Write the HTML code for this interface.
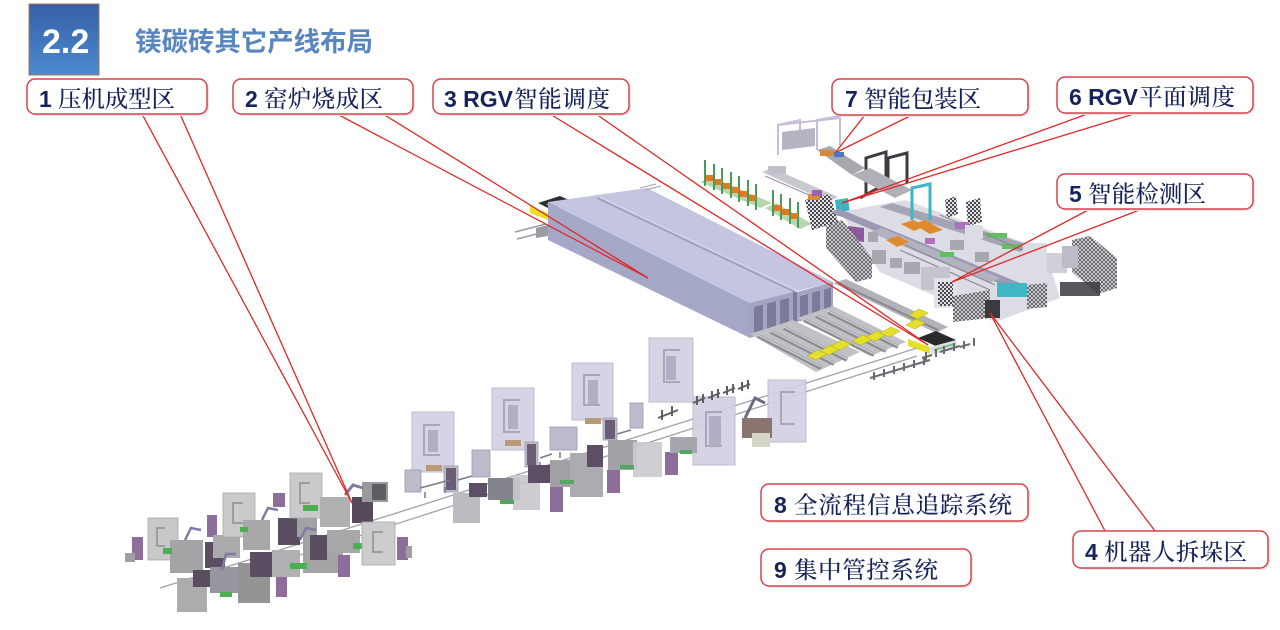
<!DOCTYPE html>
<html><head><meta charset="utf-8">
<style>
html,body{margin:0;padding:0;background:#fff;}
svg{display:block;}
.num{font-family:"Liberation Sans",sans-serif;font-weight:bold;font-size:23px;fill:#16245a;}
.cn{font-family:"Noto Serif CJK SC","Noto Serif CJK JP","Liberation Serif",serif;font-size:23.5px;fill:#16245a;font-weight:500;}
</style></head><body>
<svg width="1280" height="630" viewBox="0 0 1280 630" xmlns="http://www.w3.org/2000/svg">
<defs>
<linearGradient id="tb" x1="0" y1="0" x2="0" y2="1">
<stop offset="0" stop-color="#3560a6"/><stop offset="1" stop-color="#4c8ad0"/>
</linearGradient>
<pattern id="mesh" width="4" height="4" patternUnits="userSpaceOnUse">
<rect width="4" height="4" fill="#e0e0e4"/><rect width="2" height="2" fill="#4a4a50"/><rect x="2" y="2" width="2" height="2" fill="#4a4a50"/>
</pattern>
<pattern id="mesh2" width="4" height="4" patternUnits="userSpaceOnUse">
<rect width="4" height="4" fill="#e6e6ea"/><path d="M0,4 L4,0 M0,0 L4,4" stroke="#55555c" stroke-width="0.9"/>
</pattern>
</defs>

<!-- Title -->
<rect x="29" y="4" width="70" height="71" fill="url(#tb)" stroke="#9c7a50" stroke-width="1"/>
<text x="42" y="53" style="font-family:'Liberation Sans',sans-serif;font-weight:bold;font-size:34px;fill:#fff">2.2</text>
<text x="135" y="51" textLength="238" style="font-family:'Liberation Sans','Noto Sans CJK SC',sans-serif;font-weight:bold;font-size:26.5px;fill:#5a86c0">镁碳砖其它产线布局</text>

<!-- ===== Kiln ===== -->
<g>
<line x1="515" y1="232" x2="546" y2="224" stroke="#9a9aa0" stroke-width="1.5"/>
<line x1="517" y1="239" x2="548" y2="231" stroke="#9a9aa0" stroke-width="1.5"/>
<polygon points="536,228 548,225 548,236 536,238" fill="#9c9ca4"/>
<polygon points="538,203 560,196 574,202 552,210" fill="#2e2e30"/>
<polygon points="530,206 548,213 548,220 530,213" fill="#e6e026"/>
<polygon points="546,204 556,201 560,204 550,207" fill="#5cbf70"/>
<polygon points="548,202 750,303 750,338 548,240" fill="#a5a7c7"/>
<polygon points="548,202 647,188 833,282 750,303" fill="#c3c5e1"/>
<line x1="597" y1="198" x2="795" y2="292" stroke="#9a9cbc" stroke-width="1.6"/>
<line x1="600" y1="197" x2="798" y2="291" stroke="#d6d8ee" stroke-width="1"/>
<line x1="640" y1="188" x2="656" y2="184" stroke="#a0a0a8" stroke-width="1"/>
<line x1="645" y1="190" x2="661" y2="186" stroke="#a0a0a8" stroke-width="1"/>
<polygon points="750,303 793,292 793,323 750,338" fill="#a3a3c2"/>
<polygon points="793,292 797,292 797,322 793,323" fill="#7c7c98"/>
<polygon points="797,292 833,282 833,310 797,322" fill="#a3a3c2"/>
<polygon points="754,307 763,304.7 763,333.5 754,336.6" fill="#7a7a9a"/>
<polygon points="767,303.6 776,301.3 776,328.9 767,332.1" fill="#7a7a9a"/>
<polygon points="780,300.3 789,298 789,324.4 780,327.5" fill="#7a7a9a"/>
<polygon points="800,296.2 808,294 808,318.3 800,321" fill="#7a7a9a"/>
<polygon points="812,292.8 820,290.6 820,314.3 812,317" fill="#7a7a9a"/>
<polygon points="824,289.5 831,287.6 831,310.7 824,313" fill="#7a7a9a"/>
</g>

<!-- tracks -->
<g stroke-linecap="butt">
<polygon points="750,334 793,320 860,352 816,372" fill="#c0c0c6"/>
<polygon points="797,318 833,306 906,342 870,356" fill="#c0c0c6"/>
<line x1="758" y1="336" x2="821" y2="368" stroke="#8c8c94" stroke-width="4"/>
<line x1="771" y1="332" x2="834" y2="364" stroke="#8c8c94" stroke-width="4"/>
<line x1="784" y1="328" x2="847" y2="360" stroke="#8c8c94" stroke-width="4"/>
<line x1="804" y1="320" x2="874" y2="355" stroke="#8c8c94" stroke-width="4"/>
<line x1="816" y1="316" x2="886" y2="351" stroke="#8c8c94" stroke-width="4"/>
<line x1="828" y1="312" x2="898" y2="347" stroke="#8c8c94" stroke-width="4"/>
<line x1="758" y1="335" x2="821" y2="367" stroke="#d4d4da" stroke-width="1.2"/>
<line x1="771" y1="331" x2="834" y2="363" stroke="#d4d4da" stroke-width="1.2"/>
<line x1="784" y1="327" x2="847" y2="359" stroke="#d4d4da" stroke-width="1.2"/>
<line x1="804" y1="319" x2="874" y2="354" stroke="#d4d4da" stroke-width="1.2"/>
<line x1="816" y1="315" x2="886" y2="350" stroke="#d4d4da" stroke-width="1.2"/>
<line x1="828" y1="311" x2="898" y2="346" stroke="#d4d4da" stroke-width="1.2"/>
<polygon points="833,283 846,279 948,327 936,333" fill="#b2b2ba"/>
<line x1="838" y1="283" x2="938" y2="330" stroke="#88888f" stroke-width="2"/>
</g>
<g fill="#e4e02a" stroke="#b9b420" stroke-width="0.6">
<polygon points="807,356 818,350 827,354 816,360"/>
<polygon points="820,351 831,345 840,349 829,355"/>
<polygon points="831,346 842,340 851,344 840,350"/>
<polygon points="852,341 863,335 872,339 861,345"/>
<polygon points="866,337 877,331 886,335 875,341"/>
<polygon points="880,333 891,327 900,331 889,337"/>
<polygon points="909,315 919,309 928,313 918,319"/>
<polygon points="906,325 916,319 925,323 915,329"/>
</g>
<polygon points="918,338 936,331 956,340 938,347" fill="#2a2a2c"/>
<polygon points="908,339 930,347 930,354 908,346" fill="#e6e026"/>
<polygon points="930,347 956,340 958,347 932,355" fill="#dcdce6"/>
<line x1="934" y1="350" x2="954" y2="344" stroke="#5cbf70" stroke-width="1.5"/>

<g stroke="#6a6a70" stroke-width="2" fill="none">
<path d="M870,378 l10,-3 M874,372 v8 M884,369 v8 M880,375 l10,-3"/>
<path d="M890,372 l10,-3 M894,366 v8 M904,363 v8 M900,369 l10,-3"/>
<path d="M910,366 l10,-3 M914,360 v8 M924,357 v8 M920,363 l10,-3"/>
<path d="M922,358 l10,-3 M926,352 v8 M936,349 v8"/>
<path d="M940,352 l10,-3 M944,346 v8 M954,343 v8 M950,349 l10,-3"/>
<path d="M960,347 l10,-3 M964,341 v8 M974,338 v8"/>
</g>

<line x1="160" y1="588" x2="917" y2="348" stroke="#a2a2a6" stroke-width="1.3"/>
<line x1="300" y1="555" x2="917" y2="356" stroke="#a2a2a6" stroke-width="1.3"/>

<!-- ===== Middle group ===== -->
<g>
<g fill="#d2d0e2" stroke="#b8b6ca" stroke-width="1" opacity="0.92">
<rect x="412" y="412" width="42" height="60"/>
<rect x="492" y="388" width="42" height="62"/>
<rect x="572" y="363" width="41" height="57"/>
<rect x="649" y="338" width="44" height="64"/>
<rect x="768" y="380" width="38" height="62"/>
<rect x="693" y="397" width="42" height="68"/>
</g>
<g fill="none" stroke="#a8a6bc" stroke-width="2">
<path d="M440,425 h-16 v30 h16"/>
<path d="M520,400 h-16 v32 h16"/>
<path d="M600,375 h-16 v30 h16"/>
<path d="M680,350 h-16 v32 h16"/>
<path d="M795,392 h-14 v32 h14"/>
<path d="M722,412 h-16 v34 h16"/>
</g>
<g fill="#b0aec4">
<rect x="428" y="430" width="10" height="22"/>
<rect x="508" y="405" width="10" height="24"/>
<rect x="588" y="380" width="10" height="24"/>
<rect x="666" y="356" width="10" height="24"/>
<rect x="709" y="416" width="12" height="30"/>
</g>
<g fill="#bdbacc" stroke="#9c9ab0" stroke-width="0.8">
<rect x="405" y="470" width="16" height="22"/>
<rect x="444" y="466" width="14" height="26"/>
<rect x="472" y="450" width="18" height="27"/>
<rect x="525" y="442" width="13" height="25"/>
<rect x="550" y="427" width="27" height="23"/>
<rect x="603" y="418" width="14" height="22"/>
<rect x="630" y="403" width="13" height="25"/>
</g>
<g fill="#6c5c74">
<rect x="446" y="468" width="10" height="22"/>
<rect x="527" y="444" width="9" height="21"/>
<rect x="605" y="420" width="10" height="19"/>
</g>
<g fill="#b89a78">
<rect x="426" y="465" width="16" height="6"/>
<rect x="505" y="440" width="16" height="6"/>
<rect x="585" y="418" width="16" height="6"/>
</g>
<g stroke="#7a7a86" stroke-width="1.5" fill="none">
<path d="M420,488 l30,-8 M458,480 l14,-4 M540,458 l12,-4 M617,434 l14,-4"/>
<path d="M425,492 v6 M445,487 v6 M540,462 v6 M560,452 v6"/>
</g>
<rect x="453" y="493" width="27" height="30" fill="#bcbcc0"/>
<rect x="469" y="483" width="18" height="14" fill="#5c4e64"/>
<rect x="488" y="478" width="32" height="22" fill="#84848c"/>
<rect x="513" y="475" width="27" height="35" fill="#c8c8cc" opacity="0.9"/>
<rect x="528" y="465" width="22" height="18" fill="#5c4e64"/>
<rect x="550" y="487" width="13" height="25" fill="#8d6e9a"/>
<rect x="550" y="460" width="23" height="27" fill="#a0a0a6"/>
<rect x="570" y="453" width="33" height="44" fill="#acacb0"/>
<rect x="587" y="445" width="16" height="22" fill="#5c4e64"/>
<rect x="607" y="470" width="13" height="23" fill="#8d6e9a"/>
<rect x="608" y="440" width="29" height="30" fill="#a2a2a8"/>
<rect x="633" y="442" width="29" height="35" fill="#cacace" opacity="0.9"/>
<rect x="665" y="452" width="13" height="23" fill="#8d6e9a"/>
<rect x="670" y="437" width="27" height="16" fill="#a6a6ae"/>
<g fill="#52a860">
<rect x="500" y="500" width="14" height="4"/><rect x="560" y="480" width="14" height="4"/><rect x="620" y="465" width="14" height="4"/><rect x="680" y="450" width="12" height="4"/>
</g>
<g stroke="#5e5e66" stroke-width="2" fill="none">
<path d="M658,418 l20,-8 M662,410 v10 M672,406 v10"/>
<path d="M693,403 l12,-5 M697,396 v9 M703,394 v9"/>
<path d="M708,398 l12,-5 M712,391 v9 M718,389 v9"/>
<path d="M723,393 l12,-5 M727,386 v9 M733,384 v9"/>
<path d="M738,389 l12,-5 M742,382 v9 M748,380 v9"/>
</g>
<rect x="742" y="418" width="30" height="20" fill="#8a7470"/>
<rect x="752" y="433" width="18" height="14" fill="#d6d6c8"/>
<path d="M745,418 l10,-20 l10,5" stroke="#6a6a88" stroke-width="3" fill="none"/>
</g>

<!-- ===== Left press cluster ===== -->
<g>
<rect x="132" y="537" width="11" height="23" fill="#8d6e9a"/>
<rect x="125" y="553" width="10" height="9" fill="#a0a0a4"/>
<rect x="148" y="518" width="30" height="42" fill="#c8c8ca" stroke="#a8a8aa" stroke-width="0.8"/>
<path d="M165,528 h-8 v18 h8" stroke="#8e8e92" stroke-width="1.5" fill="none"/>
<rect x="170" y="540" width="33" height="33" fill="#a4a4a6"/>
<rect x="207" y="515" width="10" height="22" fill="#8d6e9a"/>
<rect x="205" y="542" width="20" height="26" fill="#5b4d62"/>
<rect x="213" y="535" width="27" height="23" fill="#aaaaac"/>
<rect x="223" y="493" width="32" height="44" fill="#cacacc" stroke="#a8a8aa" stroke-width="0.8"/>
<path d="M243,503 h-10 v20 h10" stroke="#8e8e92" stroke-width="1.5" fill="none"/>
<rect x="243" y="520" width="27" height="30" fill="#a8a8aa"/>
<rect x="273" y="493" width="12" height="14" fill="#8d6e9a"/>
<rect x="278" y="518" width="22" height="27" fill="#5b4d62"/>
<rect x="297" y="512" width="20" height="25" fill="#a2a2a4"/>
<rect x="290" y="473" width="32" height="45" fill="#cacacc" stroke="#a8a8aa" stroke-width="0.8"/>
<path d="M310,483 h-10 v20 h10" stroke="#8e8e92" stroke-width="1.5" fill="none"/>
<rect x="303" y="505" width="15" height="6" fill="#4caf50"/>
<rect x="320" y="497" width="30" height="30" fill="#b0b0b2"/>
<rect x="352" y="497" width="21" height="26" fill="#554a5c"/>
<rect x="362" y="482" width="26" height="20" fill="#9a9a9c"/>
<rect x="372" y="484" width="14" height="16" fill="#5e5e62"/>
<path d="M345,495 l8,-10 l10,3" stroke="#7c7ca0" stroke-width="3" fill="none"/>
<rect x="177" y="578" width="30" height="34" fill="#acacae"/>
<rect x="193" y="570" width="17" height="17" fill="#5b4d62"/>
<rect x="210" y="567" width="30" height="26" fill="#96969e"/>
<rect x="238" y="563" width="32" height="40" fill="#949494"/>
<rect x="250" y="552" width="23" height="25" fill="#5b4d62"/>
<rect x="276" y="573" width="11" height="24" fill="#8d6e9a"/>
<rect x="272" y="550" width="28" height="27" fill="#b0b0b2"/>
<rect x="303" y="537" width="40" height="36" fill="#a4a4a6"/>
<rect x="310" y="535" width="17" height="25" fill="#5b4d62"/>
<rect x="338" y="555" width="12" height="22" fill="#8d6e9a"/>
<rect x="327" y="530" width="33" height="23" fill="#a8a8aa"/>
<rect x="353" y="543" width="20" height="6" fill="#4caf50"/>
<rect x="362" y="522" width="33" height="43" fill="#cccccf" stroke="#a8a8aa" stroke-width="0.8"/>
<path d="M383,532 h-10 v20 h10" stroke="#8e8e92" stroke-width="1.5" fill="none"/>
<rect x="397" y="537" width="11" height="23" fill="#8d6e9a"/>
<rect x="406" y="546" width="6" height="12" fill="#a0a0a4"/>
<g fill="#4caf50"><rect x="163" y="548" width="9" height="6"/><rect x="240" y="527" width="8" height="5"/><rect x="290" y="563" width="17" height="6"/><rect x="220" y="592" width="12" height="5"/></g>
<g stroke="#7c7ca4" stroke-width="2.5" fill="none">
<path d="M185,540 l6,-12 l10,2"/><path d="M262,520 l6,-12 l10,2"/><path d="M222,570 l4,-16 l10,0"/><path d="M300,540 l6,-12 l10,2"/>
</g>
</g>

<!-- ===== Upper-right: packaging ===== -->
<g>
<g stroke="#c8bcd8" stroke-width="2" fill="none">
<path d="M778,155 V125 L800,120 V148"/>
<path d="M817,150 V120 L840,116 V146"/>
<path d="M778,125 L840,118"/>
</g>
<polygon points="782,132 815,128 815,146 782,150" fill="#b4b4c2"/>
<polygon points="817,150 830,146 865,168 852,175" fill="#a8a8b0"/>
<rect x="820" y="150" width="14" height="6" fill="#d88a3a"/>
<rect x="834" y="152" width="10" height="5" fill="#4a78c8"/>
<g stroke="#3c3c42" stroke-width="3" fill="none">
<path d="M866,195 V158 L886,152 V190"/>
<path d="M888,187 V158 L907,153 V183"/>
</g>
<line x1="860" y1="198" x2="878" y2="188" stroke="#3c3c42" stroke-width="3"/>
<polygon points="852,175 870,168 912,190 895,198" fill="#b0b0b8"/>
<polygon points="700,182 712,177 772,203 760,208" fill="#b6d6ae"/>
<polygon points="765,208 776,203 812,224 800,229" fill="#b6d6ae"/>
<g stroke="#4c9a5a" stroke-width="2">
<line x1="705" y1="160" x2="705" y2="186"/><line x1="714" y1="164" x2="714" y2="190"/><line x1="722" y1="168" x2="722" y2="194"/><line x1="731" y1="172" x2="731" y2="198"/><line x1="739" y1="176" x2="739" y2="202"/><line x1="748" y1="180" x2="748" y2="206"/><line x1="756" y1="184" x2="756" y2="210"/>
<line x1="773" y1="190" x2="773" y2="216"/><line x1="781" y1="194" x2="781" y2="220"/><line x1="790" y1="198" x2="790" y2="224"/><line x1="798" y1="202" x2="798" y2="228"/>
</g>
<g fill="#e07a22">
<rect x="706" y="175" width="7" height="6"/><rect x="715" y="179" width="7" height="6"/><rect x="723" y="183" width="7" height="6"/><rect x="732" y="187" width="7" height="6"/><rect x="740" y="191" width="7" height="6"/><rect x="749" y="195" width="7" height="6"/>
<rect x="774" y="205" width="7" height="6"/><rect x="782" y="209" width="7" height="6"/><rect x="791" y="213" width="7" height="6"/>
</g>
<polygon points="762,172 772,168 838,197 828,202" fill="#c8c8d0"/>
<line x1="765" y1="176" x2="830" y2="204" stroke="#9090a0" stroke-width="1"/>
<rect x="768" y="166" width="18" height="8" fill="#c0c0c8"/>
<polygon points="805,200 830,194 838,222 812,230" fill="url(#mesh)"/>
<rect x="808" y="194" width="12" height="6" fill="#e08a30"/>
<polygon points="835,200 848,198 850,213 837,216" fill="#3fb4c4"/>
<rect x="812" y="190" width="10" height="6" fill="#a060b0"/>
</g>

<!-- ===== Upper-right: inspection ===== -->
<g>
<polygon points="840,212 905,200 1045,250 1060,298 995,322 880,272" fill="#dcdce4"/>
<polygon points="830,212 840,209 1032,288 1022,293" fill="#9a9ab4"/>
<polygon points="880,207 892,203 1030,245 1020,252" fill="#a4a4b4"/>
<polygon points="870,232 882,228 1000,278 990,283" fill="#b2b2c0"/>
<polygon points="848,226 864,228 864,242 848,240" fill="#8a5a9a"/>
<polygon points="826,226 842,220 872,258 872,278 856,282 826,248" fill="url(#mesh2)"/>
<g fill="#a8a8b0"><rect x="872" y="250" width="14" height="14"/><rect x="890" y="258" width="12" height="10"/><rect x="904" y="262" width="16" height="12"/><rect x="868" y="232" width="10" height="10"/><rect x="950" y="240" width="14" height="10"/><rect x="975" y="252" width="14" height="10"/></g>
<g stroke="#3fb4c4" stroke-width="3" fill="none"><path d="M912,220 V188 L930,184 V220"/></g>
<g fill="#e08a30">
<polygon points="901,224 913,220 926,226 914,231"/>
<polygon points="913,224 925,220 943,230 930,234"/>
<polygon points="886,240 898,236 909,242 897,247"/>
</g>
<polygon points="945,200 956,196 958,214 947,218" fill="url(#mesh)"/>
<polygon points="966,202 980,198 982,222 968,226" fill="url(#mesh)"/>
<g fill="#b070c0"><rect x="955" y="222" width="14" height="7"/><rect x="925" y="238" width="10" height="6"/></g>
<g fill="#60c060"><rect x="987" y="233" width="20" height="5"/><rect x="1002" y="244" width="18" height="5"/><rect x="940" y="252" width="14" height="5"/></g>
<g stroke="#8a8a96" stroke-width="1.2" fill="none">
<path d="M900,250 l90,40 M905,245 l90,40 M940,215 l90,38"/>
</g>
<rect x="921" y="267" width="29" height="23" fill="#c4c4cc"/>
<rect x="934" y="278" width="23" height="30" fill="#e2e2ea"/>
<rect x="938" y="282" width="15" height="24" fill="url(#mesh)"/>
<polygon points="953,296 990,290 990,318 953,322" fill="url(#mesh2)"/>
<rect x="985" y="300" width="15" height="18" fill="#3a3a40"/>
<rect x="997" y="283" width="30" height="14" fill="#40b6c6"/>
<polygon points="1027,285 1047,283 1047,307 1027,309" fill="url(#mesh2)"/>
<rect x="1023" y="243" width="24" height="27" fill="#dcdce4"/>
<rect x="1047" y="253" width="20" height="20" fill="#cfcfd8"/>
<polygon points="1072,240 1090,236 1117,258 1117,288 1098,294 1072,272" fill="url(#mesh2)"/>
<rect x="1062" y="246" width="16" height="22" fill="#bcbcc8"/>
<rect x="1060" y="282" width="40" height="14" fill="#3a3a40" opacity="0.85"/>
<rect x="965" y="225" width="18" height="14" fill="#dcdce4"/>
</g>

<!-- ===== Red connectors ===== -->
<g stroke="#e02828" stroke-width="1.3" fill="none">
<line x1="142" y1="114" x2="352" y2="503"/>
<line x1="180" y1="114" x2="352" y2="503"/>
<line x1="337" y1="114" x2="648" y2="278"/>
<line x1="383" y1="114" x2="648" y2="278"/>
<line x1="550" y1="114" x2="928" y2="345"/>
<line x1="596" y1="114" x2="928" y2="345"/>
<line x1="865" y1="115" x2="835" y2="153"/>
<line x1="912" y1="115" x2="837" y2="152"/>
<line x1="1090" y1="113" x2="842" y2="203"/>
<line x1="1137" y1="113" x2="842" y2="203"/>
<line x1="1090" y1="209" x2="952" y2="282"/>
<line x1="1142" y1="209" x2="952" y2="282"/>
<line x1="1105" y1="531" x2="990" y2="313"/>
<line x1="1155" y1="531" x2="990" y2="313"/>
</g>

<!-- ===== Labels ===== -->
<g fill="#e6e6e6">
<rect x="29" y="81" width="180" height="35" rx="8"/>
<rect x="235" y="81" width="180" height="35" rx="8"/>
<rect x="435" y="81" width="196" height="35" rx="8"/>
<rect x="834" y="81" width="196" height="36" rx="8"/>
<rect x="1059" y="79" width="196" height="36" rx="8"/>
<rect x="1059" y="176" width="196" height="35" rx="8"/>
<rect x="763" y="486" width="267" height="37" rx="8"/>
<rect x="763" y="551" width="210" height="37" rx="8"/>
<rect x="1075" y="533" width="195" height="37" rx="8"/>
</g>
<g fill="#fff" stroke="#d8404c" stroke-width="1.5">
<rect x="27" y="79" width="180" height="35" rx="8"/>
<rect x="233" y="79" width="180" height="35" rx="8"/>
<rect x="433" y="79" width="196" height="35" rx="8"/>
<rect x="832" y="79" width="196" height="36" rx="8"/>
<rect x="1057" y="77" width="196" height="36" rx="8"/>
<rect x="1057" y="174" width="196" height="35" rx="8"/>
<rect x="761" y="484" width="267" height="37" rx="8"/>
<rect x="761" y="549" width="210" height="37" rx="8"/>
<rect x="1073" y="531" width="195" height="37" rx="8"/>
</g>

<text x="39" y="107" class="num">1</text><text x="58" y="107" class="cn" textLength="117">压机成型区</text>
<text x="245" y="107" class="num">2</text><text x="264" y="107" class="cn" textLength="119">窑炉烧成区</text>
<text x="444" y="107" class="num">3 RGV</text><text x="514" y="107" class="cn" textLength="96">智能调度</text>
<text x="845" y="107" class="num">7</text><text x="864" y="107" class="cn" textLength="117">智能包装区</text>
<text x="1069" y="105" class="num">6 RGV</text><text x="1139" y="105" class="cn" textLength="96">平面调度</text>
<text x="1069" y="202" class="num">5</text><text x="1088" y="202" class="cn" textLength="118">智能检测区</text>
<text x="774" y="513" class="num">8</text><text x="794" y="513" class="cn" textLength="218">全流程信息追踪系统</text>
<text x="774" y="578" class="num">9</text><text x="794" y="578" class="cn" textLength="144">集中管控系统</text>
<text x="1085" y="560" class="num">4</text><text x="1104" y="560" class="cn" textLength="143">机器人拆垛区</text>
</svg>
</body></html>
